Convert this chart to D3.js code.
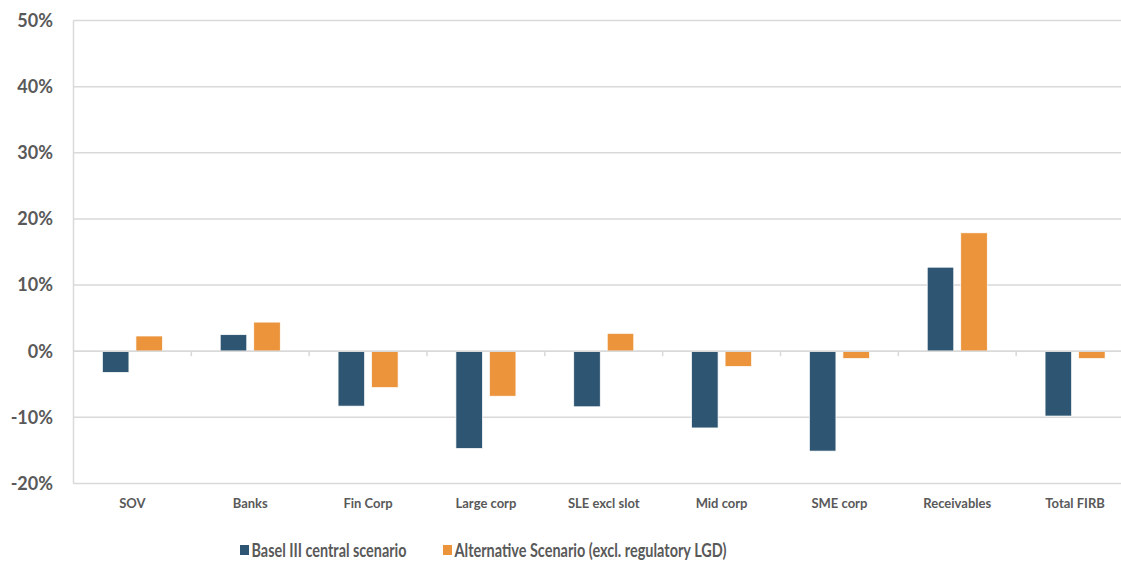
<!DOCTYPE html>
<html><head><meta charset="utf-8">
<script src="https://cdn.jsdelivr.net/npm/d3@7"></script>
<style>body{margin:0;background:#fff}</style>
</head><body><svg id="c" width="1121" height="561"></svg>
<script>
const categories = ["SOV","Banks","Fin Corp","Large corp","SLE excl slot","Mid corp","SME corp","Receivables","Total FIRB"];
const basel = [-3.2, 2.5, -8.3, -14.7, -8.4, -11.6, -15.1, 12.7, -9.8];
const alternative = [2.3, 4.4, -5.5, -6.8, 2.7, -2.3, -1.1, 17.9, -1.1];
const seriesNames = ["Basel III central scenario","Alternative Scenario (excl. regulatory LGD)"];
const yTicks = [-20,-10,0,10,20,30,40,50];
const colors = ["#2E5672","#EB943C"];

const svg = d3.select("#c");
const font = "Lato, 'Liberation Sans', sans-serif";
const x = d3.scaleBand().domain(categories).range([73.5, 1134]);
const y = d3.scaleLinear().domain([-20, 50]).range([483.5, 20.5]);

// gridlines
svg.append("g").selectAll("line").data(yTicks).join("line")
  .attr("x1", 73.5).attr("x2", 1134)
  .attr("y1", d => y(d)).attr("y2", d => y(d))
  .attr("stroke", "#d9d9d9").attr("stroke-width", 1.5);
// left axis
svg.append("line").attr("x1", 73.5).attr("x2", 73.5).attr("y1", y(50)).attr("y2", y(-20))
  .attr("stroke", "#d9d9d9").attr("stroke-width", 1.5);
// y labels
svg.append("g").selectAll("text").data(yTicks).join("text")
  .attr("x", 53).attr("y", d => y(d)).attr("dy", "0.35em")
  .attr("text-anchor", "end").attr("font-family", font).attr("font-weight", "bold")
  .attr("font-size", 18).attr("fill", "#595959").text(d => d + "%");

const bw = x.bandwidth() * 0.225, gap = 7;
const series = [basel, alternative];
series.forEach((vals, si) => {
  svg.append("g").selectAll("rect").data(vals).join("rect")
    .attr("x", (d, i) => x(categories[i]) + x.bandwidth()/2 - gap/2 - bw + si*(bw + gap))
    .attr("width", bw)
    .attr("y", d => y(Math.max(0, d)))
    .attr("height", d => Math.abs(y(d) - y(0)))
    .attr("fill", colors[si]).attr("stroke", "#fff").attr("stroke-width", 0.7);
});
// zero axis line + ticks
svg.append("line").attr("x1", 73.5).attr("x2", 1134).attr("y1", y(0)).attr("y2", y(0))
  .attr("stroke", "#d9d9d9").attr("stroke-width", 1.5);
svg.append("g").selectAll("line").data(categories.slice(1)).join("line")
  .attr("x1", d => x(d)).attr("x2", d => x(d)).attr("y1", y(0)).attr("y2", y(0) + 5)
  .attr("stroke", "#d9d9d9").attr("stroke-width", 1.5);
// category labels
svg.append("g").selectAll("text").data(categories).join("text")
  .attr("x", d => x(d) + x.bandwidth()/2).attr("y", 508)
  .attr("text-anchor", "middle").attr("font-family", font).attr("font-weight", "bold")
  .attr("font-size", 13).attr("fill", "#595959").text(d => d);
// legend
const lx = [240, 443];
const lw = [155, 272];
seriesNames.forEach((n, i) => {
  svg.append("rect").attr("x", lx[i]).attr("y", 545).attr("width", 9).attr("height", 10).attr("fill", colors[i]);
  svg.append("text").attr("x", lx[i] + 11.5).attr("y", 556.5)
    .attr("font-family", font).attr("font-weight", "bold").attr("font-size", 18)
    .attr("textLength", lw[i]).attr("lengthAdjust", "spacingAndGlyphs")
    .attr("fill", "#595959").text(n);
});
</script></body></html>
